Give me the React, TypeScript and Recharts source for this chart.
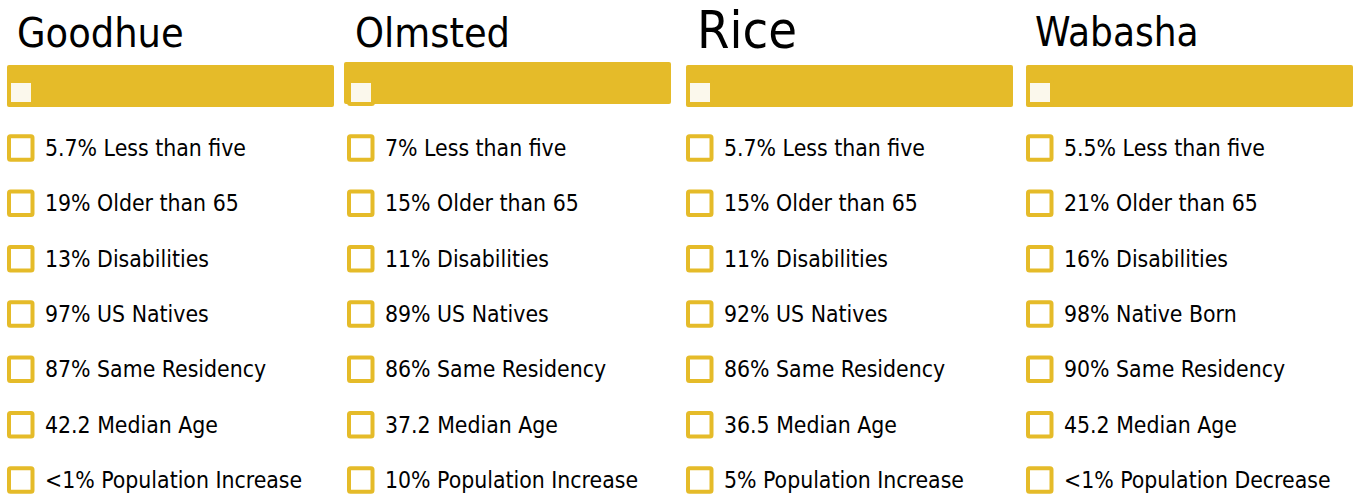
import React from 'react';
import { BarChart, Bar, XAxis, YAxis, Legend } from 'recharts';

// ---------- data ----------
const COUNTIES = ['Goodhue', 'Olmsted', 'Rice', 'Wabasha'];
const HEADER_VALUES = [100, 100, 100, 100];

const GOODHUE_VALUES = ['5.7%', '19%', '13%', '97%', '87%', '42.2', '<1%'];
const OLMSTED_VALUES = ['7%', '15%', '11%', '89%', '86%', '37.2', '10%'];
const RICE_VALUES = ['5.7%', '15%', '11%', '92%', '86%', '36.5', '5%'];
const WABASHA_VALUES = ['5.5%', '21%', '16%', '98%', '90%', '45.2', '<1%'];

const LABELS = [
  'Less than five',
  'Older than 65',
  'Disabilities',
  'US Natives',
  'Same Residency',
  'Median Age',
  'Population Increase',
];
const WABASHA_LABELS = [
  'Less than five',
  'Older than 65',
  'Disabilities',
  'Native Born',
  'Same Residency',
  'Median Age',
  'Population Decrease',
];

const COUNTY_VALUES = [GOODHUE_VALUES, OLMSTED_VALUES, RICE_VALUES, WABASHA_VALUES];
const COUNTY_LABELS = [LABELS, LABELS, LABELS, WABASHA_LABELS];

// ---------- layout / style ----------
const GOLD = '#E5BB29';
const LIGHT = '#FBF8EC';
const TEXT = '#000000';
const FONT = "'DejaVu Sans Condensed', 'DejaVu Sans', sans-serif";

const CHART_W = 350;
const CHART_H = 495;
const PAD = 10; // column x inside each chart
const BAR_W = 327;
const BAR_H = 41.5;
const ROW_Y0 = 148;
const ROW_STEP = 55.33;

const LAYOUT = [
  { col: 7, barX: 7, barY: 65, titleX: 17, titleY: 47, titleSize: 41 },
  { col: 347, barX: 344, barY: 62, titleX: 355, titleY: 47, titleSize: 41 },
  { col: 686, barX: 686, barY: 65, titleX: 697, titleY: 48, titleSize: 52 },
  { col: 1026, barX: 1026, barY: 65, titleX: 1035, titleY: 46, titleSize: 40 },
];

function Title({ x, y, size, text }: { x: number; y: number; size: number; text: string }) {
  return (
    <text x={x} y={y} fontSize={size} fontFamily={FONT} fill="#000" style={{ fontStretch: 'condensed' }}>
      {text}
    </text>
  );
}

function Items({ values, labels }: { values: string[]; labels: string[] }) {
  return (
    <svg
      width={CHART_W}
      height={CHART_H}
      style={{ position: 'absolute', left: 0, top: 0, overflow: 'visible' }}
    >
      {/* header legend icon sitting on the bar */}
      <rect x={PAD + 2} y={81} width={24} height={23} rx={1.5} fill={LIGHT} stroke={GOLD} strokeWidth={4} />
      {values.map((v, i) => {
        const cy = ROW_Y0 + i * ROW_STEP;
        return (
          <g key={i}>
            <rect
              x={PAD + 2}
              y={cy - 11.75}
              width={23.5}
              height={23.5}
              rx={1.5}
              fill="#ffffff"
              stroke={GOLD}
              strokeWidth={4}
            />
            <text
              x={PAD + 38}
              y={cy + 8}
              fontSize={22.8}
              fontFamily={FONT}
              fill={TEXT}
              style={{ fontStretch: 'condensed' }}
            >
              {`${v} ${labels[i]}`}
            </text>
          </g>
        );
      })}
    </svg>
  );
}

function CountyChart({ idx }: { idx: number }) {
  const L = LAYOUT[idx];
  const left = L.col - PAD;
  const mLeft = L.barX - left;
  const data = [{ name: COUNTIES[idx], value: HEADER_VALUES[idx] }];
  return (
    <div style={{ position: 'absolute', left, top: 0, width: CHART_W, height: CHART_H }}>
      <BarChart
        width={CHART_W}
        height={CHART_H}
        data={data}
        layout="vertical"
        barCategoryGap={0}
        margin={{ top: L.barY, bottom: CHART_H - L.barY - BAR_H, left: mLeft, right: CHART_W - mLeft - BAR_W }}
      >
        <XAxis type="number" domain={[0, 100]} hide />
        <YAxis type="category" dataKey="name" hide />
        <Bar dataKey="value" fill={GOLD} radius={2} isAnimationActive={false} />
        <Title x={L.titleX - left} y={L.titleY} size={L.titleSize} text={COUNTIES[idx]} />
        <Legend
          layout="vertical"
          align="center"
          verticalAlign="middle"
          wrapperStyle={{ left: 0, top: 0, width: CHART_W, height: CHART_H }}
          content={() => <Items values={COUNTY_VALUES[idx]} labels={COUNTY_LABELS[idx]} />}
        />
      </BarChart>
    </div>
  );
}

export default function App() {
  return (
    <div style={{ position: 'absolute', left: 0, top: 0, width: 1355, height: 495, background: '#fff' }}>
      {COUNTIES.map((c, i) => (
        <CountyChart key={c} idx={i} />
      ))}
    </div>
  );
}
